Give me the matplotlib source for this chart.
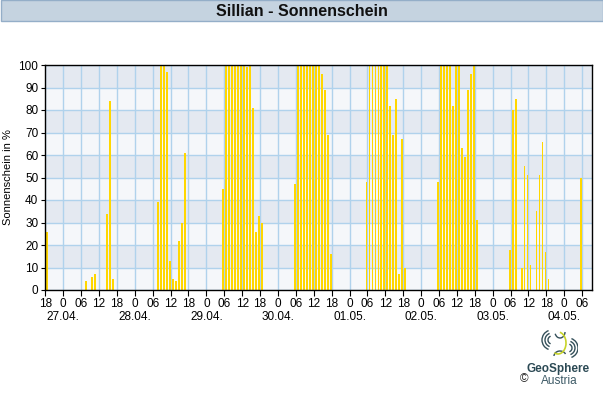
#!/usr/bin/env python3
"""Hourly sunshine share at Sillian, bar chart in GeoSphere style."""

import numpy as np
import matplotlib
matplotlib.use("Agg")
import matplotlib.pyplot as plt
from matplotlib.patches import Rectangle, Arc

plt.rcParams['font.family'] = ['Liberation Sans', 'DejaVu Sans']

TITLE = "Sillian - Sonnenschein"
YLABEL = "Sonnenschein in %"
FIRST_HOUR = 18          # first value belongs to 26.04. 18:00
DATES = ["27.04.", "28.04.", "29.04.", "30.04.", "01.05.", "02.05.", "03.05.", "04.05."]

# hourly sunshine in %, one value per hour starting 26.04. 18:00
SUN = [
    100, 26, 0, 0, 0, 0,                                            # 26.04. 18-23
    0, 0, 0, 0, 0, 0, 0, 0, 4, 0, 6, 7, 0, 0, 0, 34, 84, 5,          # 27.04. 00-17
    0, 0, 0, 0, 0, 0,                                               # 27.04. 18-23
    0, 0, 0, 0, 0, 0, 0, 0, 39, 100, 100, 97, 13, 5, 4, 22, 30, 61,  # 28.04.
    0, 0, 0, 0, 0, 0,
    0, 0, 0, 0, 0, 0, 45, 100, 100, 100, 100, 100, 100, 100, 99, 100, 81, 26,  # 29.04.
    33, 30, 0, 0, 0, 0,
    0, 0, 0, 0, 0, 0, 47, 100, 100, 100, 100, 100, 100, 100, 100, 96, 89, 69,  # 30.04.
    16, 0, 0, 0, 0, 0,
    0, 0, 0, 0, 0, 0, 48, 100, 100, 100, 100, 100, 100, 100, 82, 69, 85, 7,    # 01.05.
    67, 10, 0, 0, 0, 0,
    0, 0, 0, 0, 0, 0, 48, 100, 100, 100, 100, 82, 100, 100, 63, 59, 89, 96,    # 02.05.
    100, 31, 0, 0, 0, 0,
    0, 0, 0, 0, 0, 0, 18, 80, 85, 0, 10, 55, 51, 11, 0, 35, 51, 66,            # 03.05.
    17, 5, 0, 0, 0, 0,
    0, 0, 0, 0, 0, 0, 50,                                           # 04.05. 00-06
]

W, H = 603, 400
fig = plt.figure(figsize=(W / 100, H / 100), dpi=100)

# title bar
fig.patches.append(Rectangle((0.5 / W, 1 - 21 / H), (W - 1) / W, 20.5 / H,
                             transform=fig.transFigure, facecolor='#c5d3e0',
                             edgecolor='#94aec8', linewidth=1))
fig.text(0.5, 1 - 11 / H, TITLE, ha='center', va='center', fontsize=11.5,
         fontweight='bold', color='#111111')

ax = fig.add_axes([44.6 / W, 110 / H, 547.7 / W, 225 / H])
ax.set_facecolor('#f5f7fa')
for lo in range(10, 100, 20):
    ax.axhspan(lo, lo + 10, color='#e4e9f1', zorder=0, linewidth=0)

hours = np.arange(len(SUN))
ax.bar(hours - 0.62, SUN, width=0.62, align='edge', color='#ffd700',
       linewidth=0, zorder=3)

ax.set_xlim(-0.25, 183.4)
ax.set_ylim(0, 100)

tick_pos = np.arange(0, len(SUN), 6)
tick_lab = []
for p in tick_pos:
    hod = (FIRST_HOUR + p) % 24
    tick_lab.append("0" if hod == 0 else f"{hod:02d}")
ax.set_xticks(tick_pos)
ax.set_xticklabels(tick_lab)
# date labels sit under the midnight ticks
ax.xaxis.remove_overlapping_locs = False
mid_pos = [p for p in tick_pos if (FIRST_HOUR + p) % 24 == 0]
ax.set_xticks(mid_pos, minor=True)
ax.set_xticklabels(DATES, minor=True)
ax.tick_params(axis='x', which='major', length=4, pad=1.5, labelsize=8.5, color='black')
ax.tick_params(axis='x', which='minor', length=0, pad=15, labelsize=8.5)

ax.set_yticks(np.arange(0, 101, 10))
ax.tick_params(axis='y', length=3, pad=1.5, labelsize=8.5)
ax.set_ylabel(YLABEL, fontsize=8, labelpad=4)

ax.grid(True, which='major', color='#b0d2ec', linewidth=1, zorder=1)
ax.set_axisbelow(True)
for s in ax.spines.values():
    s.set_linewidth(1)
    s.set_color('black')
    s.set_zorder(5)

# GeoSphere logo (approximation)
lax = fig.add_axes([538 / W, 1 - 362 / H, 40 / W, 38 / H])
lax.set_xlim(0, 40)
lax.set_ylim(0, 38)
lax.axis('off')
dark = '#34505a'
for r in (4, 7, 10):
    lax.add_patch(Arc((14, 22), 2 * r, 2 * r, theta1=110, theta2=250, color=dark, lw=1))
for r in (4, 7, 10):
    lax.add_patch(Arc((30, 14), 2 * r, 2 * r, theta1=290, theta2=70, color=dark, lw=1))
lax.add_patch(Arc((22, 30), 10, 12, theta1=200, theta2=360, color=dark, lw=1))
lax.add_patch(Arc((22, 6), 12, 10, theta1=20, theta2=180, color=dark, lw=1))
lax.add_patch(Arc((20, 19), 16, 22, theta1=250, theta2=80, color='#c8d42a', lw=1.2))

fig.text(558 / W, 1 - 369 / H, "GeoSphere", ha='center', va='center',
         fontsize=8.5, fontweight='bold', color='#2c4a55')
fig.text(559 / W, 1 - 381 / H, "Austria", ha='center', va='center',
         fontsize=8.5, color='#3d5a66')
fig.text(524 / W, 1 - 379 / H, "\u00a9", ha='center', va='center',
         fontsize=8.5, color='#222222')

fig.savefig("out.png", dpi=100)
